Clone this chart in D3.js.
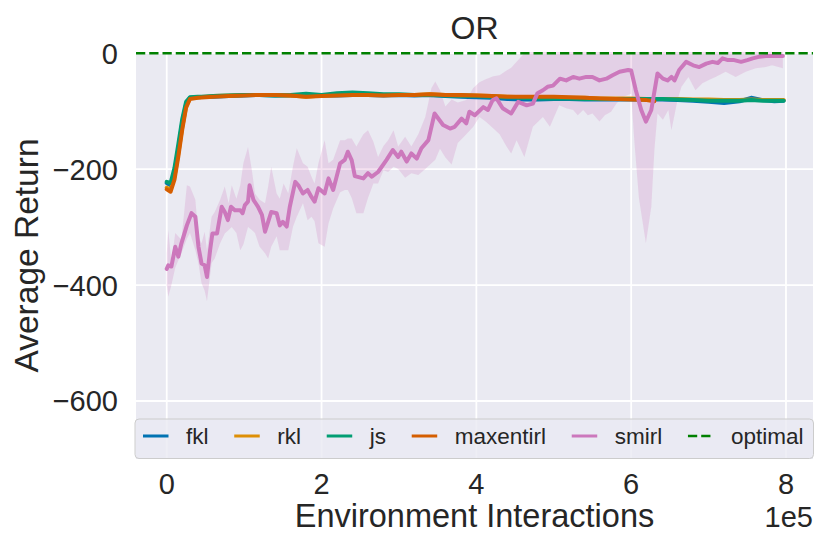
<!DOCTYPE html>
<html>
<head>
<meta charset="utf-8">
<script src="https://cdn.jsdelivr.net/npm/d3@7"></script>
<style>
  body { margin: 0; background: #fff; }
  svg text { font-family: "Liberation Sans", Arial, sans-serif; fill: #262626; }
</style>
</head>
<body>
<svg id="chart" width="830" height="554"></svg>
<script>
// environment interactions (1e5) for the four IRL runs
const steps = [0, 0.05, 0.1, 0.15, 0.2, 0.25, 0.3, 0.4, 0.5, 0.6, 0.8, 1.0, 1.2, 1.4, 1.6, 1.8, 2.0, 2.2, 2.4, 2.6,
    2.8, 3.0, 3.2, 3.4, 3.6, 3.8, 4.0, 4.2, 4.4, 4.6, 4.8, 5.0, 5.2, 5.4, 5.6, 5.8, 6.0, 6.2, 6.3, 6.4,
    6.6, 6.8, 7.0, 7.2, 7.4, 7.55, 7.7, 7.85, 7.97];

const fkl = [-224, -228, -205, -165, -120, -88, -77, -76, -75, -75, -74, -73, -72, -73, -73, -74, -73, -73, -72, -72,
    -73, -72, -73, -72, -74, -75, -76, -77, -79, -80, -80, -79, -79, -80, -80, -80, -80, -80, -80, -80,
    -81, -82, -84, -86, -83, -77, -81, -83, -82];
const rkl = [-232, -236, -213, -173, -128, -92, -78, -76, -75, -74, -73, -72, -72, -72, -73, -75, -73, -72, -71, -71,
    -72, -72, -72, -71, -72, -73, -73, -74, -75, -76, -76, -76, -77, -77, -78, -78, -78, -79, -79, -79,
    -79, -80, -80, -81, -81, -80, -81, -81, -81];
const js = [-222, -224, -198, -157, -114, -84, -76, -75, -75, -74, -73, -72, -72, -73, -72, -70, -72, -69, -68, -69,
    -71, -71, -72, -72, -73, -73, -74, -75, -76, -77, -78, -78, -78, -79, -79, -79, -79, -79, -79, -79,
    -80, -81, -82, -82, -82, -81, -82, -82, -82];
const maxentirl = [-235, -239, -218, -178, -132, -94, -79, -77, -76, -75, -74, -73, -72, -72, -73, -75, -74, -73, -72, -72,
    -73, -72, -72, -71, -72, -72, -73, -74, -75, -75, -75, -75, -76, -77, -78, -79, -80, -81, -83, null,
    null, null, null, null, null, null, null, null, null];

// smirl mean curve
const smirlX = [0.00, 0.02, 0.06, 0.11, 0.15, 0.19, 0.26, 0.32, 0.37, 0.41, 0.45, 0.49, 0.52, 0.56, 0.59, 0.65, 0.71, 0.75, 0.79, 0.83,
    0.88, 0.95, 0.98, 1.01, 1.05, 1.07, 1.12, 1.18, 1.23, 1.27, 1.31, 1.35, 1.42, 1.46, 1.50, 1.55, 1.59, 1.66, 1.70, 1.76,
    1.82, 1.87, 1.91, 1.96, 2.04, 2.09, 2.15, 2.24, 2.30, 2.34, 2.39, 2.43, 2.54, 2.60, 2.65, 2.73, 2.84, 2.92, 2.99, 3.03,
    3.10, 3.16, 3.23, 3.29, 3.38, 3.46, 3.57, 3.66, 3.72, 3.81, 3.87, 3.91, 3.98, 4.09, 4.15, 4.21, 4.26, 4.34, 4.45, 4.54,
    4.65, 4.73, 4.79, 4.86, 4.92, 4.99, 5.08, 5.16, 5.25, 5.33, 5.42, 5.50, 5.59, 5.68, 5.76, 5.85, 5.96, 6.00, 6.06, 6.13,
    6.19, 6.26, 6.34, 6.41, 6.47, 6.52, 6.56, 6.62, 6.71, 6.80, 6.88, 6.97, 7.05, 7.12, 7.18, 7.25, 7.33, 7.42, 7.50, 7.57,
    7.66, 7.74, 7.83, 7.96];
const smirlMean = [-372, -366, -368, -334, -351, -328, -297, -276, -282, -334, -363, -366, -386, -340, -311, -311, -265, -274, -288, -265,
    -271, -271, -276, -262, -256, -228, -253, -265, -279, -308, -291, -274, -276, -297, -291, -299, -265, -222, -228, -242,
    -236, -248, -256, -233, -242, -216, -236, -190, -184, -170, -185, -212, -216, -207, -213, -205, -184, -167, -179, -170,
    -187, -173, -182, -164, -150, -104, -124, -130, -127, -113, -121, -101, -107, -93, -98, -81, -78, -95, -104, -84,
    -90, -87, -69, -64, -58, -56, -44, -47, -41, -44, -41, -41, -47, -44, -38, -32, -29, -30, -64, -98,
    -118, -98, -35, -44, -47, -41, -47, -29, -15, -21, -24, -18, -15, -17, -9, -12, -12, -15, -12, -9,
    -6, -5, -5, -5];

// smirl spread band
const bandX = [0.00, 0.02, 0.06, 0.11, 0.19, 0.26, 0.30, 0.37, 0.41, 0.45, 0.49, 0.52, 0.58, 0.62, 0.69, 0.75, 0.80, 0.84, 0.90, 0.95,
    0.99, 1.05, 1.10, 1.14, 1.20, 1.27, 1.31, 1.35, 1.42, 1.46, 1.51, 1.57, 1.63, 1.68, 1.76, 1.82, 1.87, 1.91, 1.96, 2.04,
    2.09, 2.15, 2.24, 2.30, 2.34, 2.39, 2.45, 2.54, 2.60, 2.67, 2.73, 2.80, 2.86, 2.93, 2.99, 3.08, 3.16, 3.25, 3.34, 3.42,
    3.47, 3.53, 3.60, 3.68, 3.76, 3.87, 3.96, 4.04, 4.12, 4.22, 4.30, 4.39, 4.45, 4.52, 4.62, 4.73, 4.86, 4.95, 5.07, 5.16,
    5.25, 5.31, 5.38, 5.44, 5.50, 5.59, 5.66, 5.74, 5.81, 5.90, 6.00, 6.04, 6.10, 6.19, 6.26, 6.30, 6.34, 6.41, 6.48, 6.52,
    6.60, 6.65, 6.74, 6.83, 6.92, 7.01, 7.09, 7.22, 7.35, 7.48, 7.61, 7.74, 7.82, 7.96];
const smirlLo = [-400, -420, -400, -370, -345, -320, -310, -340, -363, -397, -410, -428, -362, -354, -328, -311, -305, -300, -310, -340,
    -330, -300, -305, -310, -334, -345, -354, -334, -316, -340, -340, -340, -300, -282, -259, -288, -282, -290, -328, -334,
    -294, -268, -240, -236, -236, -250, -276, -276, -250, -225, -225, -202, -205, -196, -200, -215, -207, -210, -200, -190,
    -184, -165, -180, -192, -155, -140, -127, -110, -118, -130, -140, -161, -173, -150, -179, -127, -110, -127, -90, -95,
    -98, -107, -98, -107, -104, -118, -107, -101, -87, -75, -70, -150, -250, -328, -265, -167, -104, -115, -98, -133,
    -80, -58, -41, -64, -52, -46, -41, -32, -41, -32, -26, -24, -21, -26];
const smirlHi = [-345, -305, -360, -310, -322, -228, -230, -253, -317, -328, -308, -340, -282, -274, -253, -230, -259, -228, -251, -228,
    -190, -162, -202, -242, -253, -259, -230, -196, -242, -251, -225, -242, -196, -164, -190, -196, -213, -225, -190, -150,
    -190, -184, -150, -150, -147, -147, -161, -140, -133, -153, -179, -160, -150, -133, -161, -144, -161, -140, -110, -60,
    -49, -64, -92, -80, -85, -81, -60, -50, -45, -40, -38, -30, -25, -15, 0, 5, 5, 5, 5, 5,
    5, 5, 5, 5, 5, 5, 5, 5, 5, 5, 5, 5, 5, 5, 5, 5, 5, 5, 5, 5,
    5, 5, 5, 5, 5, 5, 5, 5, 5, 5, 5, 5, 5, 5];

const optimal = 0;
const xTicks = [0, 2, 4, 6, 8];
const yTicks = [0, -200, -400, -600];
const legendNames = ['fkl', 'rkl', 'js', 'maxentirl', 'smirl', 'optimal'];
const colors = ['#0173b2', '#de8f05', '#029e73', '#d55e00', '#cc78bc', '#008000'];

const L = 136, R = 813, T = 52, B = 459;
const svg = d3.select('#chart');
const x = d3.scaleLinear().domain([-0.397, 8.349]).range([L, R]);
const y = d3.scaleLinear().domain([-700, 2]).range([B, T]);

svg.append('rect').attr('x', L).attr('y', T).attr('width', R - L).attr('height', B - T).style('fill', '#eaeaf2');

svg.append('clipPath').attr('id', 'plotclip')
    .append('rect').attr('x', L).attr('y', T).attr('width', R - L).attr('height', B - T);

// grid
svg.append('g').selectAll('line').data(xTicks).enter().append('line')
    .attr('x1', d => x(d)).attr('x2', d => x(d)).attr('y1', T).attr('y2', B)
    .style('stroke', '#fff').style('stroke-width', '1.8px');
svg.append('g').selectAll('line').data(yTicks).enter().append('line')
    .attr('x1', L).attr('x2', R).attr('y1', d => y(d)).attr('y2', d => y(d))
    .style('stroke', '#fff').style('stroke-width', '1.8px');

const g = svg.append('g').attr('clip-path', 'url(#plotclip)');

const band = d3.area()
    .x(i => x(bandX[i]))
    .y0(i => y(smirlLo[i]))
    .y1(i => y(smirlHi[i]));
g.append('path').attr('d', band(d3.range(bandX.length)))
    .style('fill', colors[4]).style('opacity', 0.22);

const series = [fkl, rkl, js, maxentirl];
series.forEach((vals, k) => {
    const line = d3.line()
        .defined(i => vals[i] != null)
        .x(i => x(steps[i]))
        .y(i => y(vals[i]));
    g.append('path').attr('d', line(d3.range(steps.length)))
        .style('fill', 'none').style('stroke', colors[k])
        .style('stroke-width', '4px').style('stroke-linejoin', 'round').style('stroke-linecap', 'round');
});

const smirlLine = d3.line().x(i => x(smirlX[i])).y(i => y(smirlMean[i]));
g.append('path').attr('d', smirlLine(d3.range(smirlX.length)))
    .style('fill', 'none').style('stroke', colors[4])
    .style('stroke-width', '4px').style('stroke-linejoin', 'round').style('stroke-linecap', 'round');

svg.append('line').attr('x1', L).attr('x2', R).attr('y1', y(optimal)).attr('y2', y(optimal))
    .style('stroke', colors[5]).style('stroke-width', '2.5px').style('stroke-dasharray', '9.25,4');

// tick labels
svg.append('g').selectAll('text').data(yTicks).enter().append('text')
    .attr('x', 118).attr('y', d => y(d)).attr('dy', '0.36em')
    .attr('text-anchor', 'end').style('font-size', '29px')
    .text(d => d < 0 ? '\u2212' + Math.abs(d) : d);
svg.append('g').selectAll('text').data(xTicks).enter().append('text')
    .attr('x', d => x(d)).attr('y', 494)
    .attr('text-anchor', 'middle').style('font-size', '29px')
    .text(d => d);

svg.append('text').attr('x', R).attr('y', 527).attr('text-anchor', 'end')
    .style('font-size', '29px').text('1e5');
svg.append('text').attr('x', (L + R) / 2).attr('y', 527).attr('text-anchor', 'middle')
    .style('font-size', '32.5px').text('Environment Interactions');
svg.append('text').attr('transform', 'translate(38,' + ((T + B) / 2) + ') rotate(-90)')
    .attr('text-anchor', 'middle').style('font-size', '33.5px').text('Average Return');
svg.append('text').attr('x', (L + R) / 2).attr('y', 39).attr('text-anchor', 'middle')
    .style('font-size', '32px').text('OR');

// legend, spread across the axes width
const leg = svg.append('g');
leg.append('rect').attr('x', 135).attr('y', 419).attr('width', 678.5).attr('height', 39.5)
    .attr('rx', 4).style('fill', '#eaeaf2').style('fill-opacity', 0.8)
    .style('stroke', '#cccccc').style('stroke-width', '1px');
const handleW = 25.5, handleGap = 17.5, legStart = 143, legEnd = 803.5, legY = 436;
const labels = legendNames.map(n => leg.append('text').attr('y', legY + 8).style('font-size', '22.5px').text(n));
const widths = labels.map(t => t.node().getComputedTextLength());
const colGap = (legEnd - legStart - legendNames.length * (handleW + handleGap) - d3.sum(widths)) / (legendNames.length - 1);
let cx = legStart;
legendNames.forEach((n, k) => {
    leg.append('line').attr('x1', cx).attr('x2', cx + handleW).attr('y1', legY).attr('y2', legY)
        .style('stroke', colors[k])
        .style('stroke-width', k === 5 ? '2.5px' : '3px')
        .style('stroke-dasharray', k === 5 ? '9.25,4' : null);
    labels[k].attr('x', cx + handleW + handleGap);
    cx += handleW + handleGap + widths[k] + colGap;
});
</script>
</body>
</html>
